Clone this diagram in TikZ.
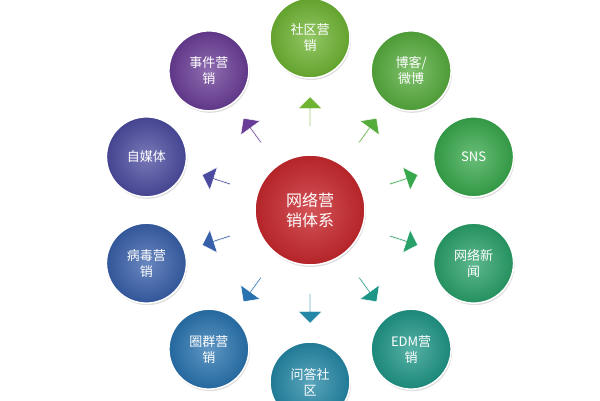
\documentclass[tikz,border=0pt]{standalone}
\usepackage{fontspec}
\setmainfont{Noto Sans CJK SC}
\usetikzlibrary{shapes.arrows,shadows,calc}
\definecolor{c1}{RGB}{110,180,50}
\definecolor{c2}{RGB}{85,172,60}
\definecolor{c3}{RGB}{55,168,75}
\definecolor{c4}{RGB}{40,160,105}
\definecolor{c5}{RGB}{30,150,135}
\definecolor{c6}{RGB}{35,135,165}
\definecolor{c7}{RGB}{40,115,175}
\definecolor{c8}{RGB}{55,95,170}
\definecolor{c9}{RGB}{75,75,160}
\definecolor{c10}{RGB}{105,60,150}
\definecolor{cc}{RGB}{200,40,45}
\tikzset{
 ball/.style={circle,minimum size=80pt,inner sep=0pt,text=white,font=\fontsize{13}{16}\selectfont,align=center,
   draw=white,line width=1.5pt,drop shadow={opacity=0.25,shadow xshift=1pt,shadow yshift=-2pt}},
 arr/.style={single arrow,minimum height=30pt,minimum width=24pt,single arrow head extend=4pt,inner sep=0pt,draw=white,line width=0.5pt}
}
\newcommand{\mybub}[4]{%
  \node[ball,inner color=#3!75!white,outer color=#3!90!black] (n#4) at ($(o)+(#1:172)$) {#2};
  \node[arr,fill=#3,rotate=#1] (a#4) at ($(o)+(#1:98)$) {};}
\begin{document}
\begin{tikzpicture}[x=1pt,y=1pt]
\useasboundingbox (0,0) rectangle (600,400);
\coordinate (o) at (310,190);
\node[ball,minimum size=110pt,inner color=cc!80!white,outer color=cc!90!black,font=\fontsize{16}{20}\selectfont] (c) at (o) {网络营\\销体系};
\mybub{90}{社区营\\销}{c1}{1}
\mybub{54}{博客/\\微博}{c2}{2}
\mybub{18}{SNS}{c3}{3}
\mybub{-18}{网络新\\闻}{c4}{4}
\mybub{-54}{EDM营\\销}{c5}{5}
\mybub{-90}{问答社\\区}{c6}{6}
\mybub{-126}{圈群营\\销}{c7}{7}
\mybub{-162}{病毒营\\销}{c8}{8}
\mybub{162}{自媒体}{c9}{9}
\mybub{126}{事件营\\销}{c10}{10}
\end{tikzpicture}
\end{document}
